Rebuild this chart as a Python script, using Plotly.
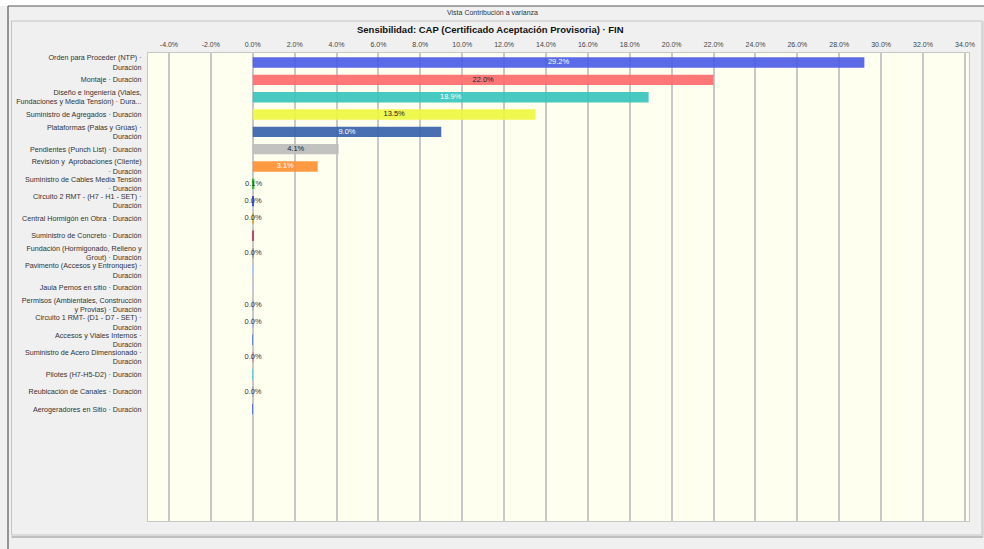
import plotly.graph_objects as go

# Sensitivity: contribution to variance of each activity duration
categories = [
    "Orden para Proceder (NTP) ·<br>Duración",
    "Montaje · Duración",
    "Diseño e Ingeniería (Viales,<br>Fundaciones y Media Tensión) · Dura...",
    "Suministro de Agregados · Duración",
    "Plataformas (Palas y Grúas) ·<br>Duración",
    "Pendientes (Punch List) · Duración",
    "Revisión y  Aprobaciones (Cliente)<br>· Duración",
    "Suministro de Cables Media Tensión<br>· Duración",
    "Circuito 2 RMT - (H7 - H1 - SET) ·<br>Duración",
    "Central Hormigón en Obra · Duración",
    "Suministro de Concreto · Duración",
    "Fundación (Hormigonado, Relleno y<br>Grout) · Duración",
    "Pavimento (Accesos y Entronques) ·<br>Duración",
    "Jaula Pernos en sitio · Duración",
    "Permisos (Ambientales, Construcción<br>y Provias) · Duración",
    "Circuito 1 RMT- (D1 - D7 - SET) ·<br>Duración",
    "Accesos y Viales Internos ·<br>Duración",
    "Suministro de Acero Dimensionado ·<br>Duración",
    "Pilotes (H7-H5-D2) · Duración",
    "Reubicación de Canales · Duración",
    "Aerogeradores en Sitio · Duración",
]
contribution_pct = [29.2, 22.0, 18.9, 13.5, 9.0, 4.1, 3.1, 0.08, 0.04, 0.04, 0.02,
                    0.03, 0.01, 0.01, 0.03, 0.03, 0.01, 0.03, 0.01, 0.02, 0.01]
show_label = [True, True, True, True, True, True, True, True, True, True, False,
              True, False, False, True, True, False, True, False, True, False]
bar_colors = ["#4a5ae6", "#ff6a6a", "#35c4bc", "#eef83e", "#3560aa", "#bcbcbc", "#ff9030",
              "#28b828", "#3848e0", "#e0a830", "#c03860", "#a0a0a0", "#a8c8f0", "#c8c8e0",
              "#b0b0d0", "#b0b8e0", "#6080e0", "#e090b0", "#60d0d0", "#b0b0c0", "#5070e0"]
label_colors = ["white", "#222", "white", "#222", "white", "#222", "white"] + ["#333"] * 14

tick_vals = list(range(-4, 35, 2))
tick_text = [f"{v:.1f}%" for v in tick_vals]

W, H = 984, 549
px_l, px_r, px_t, px_b = 148, 968.7, 53, 521

rows = list(range(len(categories)))

fig = go.Figure()
fig.add_trace(go.Bar(
    x=contribution_pct, y=rows, orientation="h", width=0.6,
    marker=dict(color=bar_colors, line=dict(width=0)), opacity=0.9,
    hoverinfo="skip",
))
fig.add_trace(go.Scatter(
    x=[v / 2 for v in contribution_pct], y=rows, mode="text",
    text=[f"{v:.1f}%" if s else "" for v, s in zip(contribution_pct, show_label)],
    textposition="middle center",
    textfont=dict(family="Liberation Sans, Arial", size=7.5, color=label_colors),
    hoverinfo="skip",
))


def fx(px):
    return px / W


def fy(py):
    return 1 - py / H


shapes = [
    # window strip and borders
    dict(type="rect", xref="paper", yref="paper", x0=0, x1=1, y0=fy(6), y1=1,
         fillcolor="white", line=dict(width=0), layer="below"),
    dict(type="line", xref="paper", yref="paper", x0=fx(8), x1=1, y0=fy(6), y1=fy(6),
         line=dict(color="#555", width=1.2)),
    dict(type="line", xref="paper", yref="paper", x0=fx(8), x1=fx(8), y0=0, y1=fy(6),
         line=dict(color="#555", width=1.2)),
    # inner panel outline
    dict(type="rect", xref="paper", yref="paper", x0=fx(11.5), x1=fx(982), y0=fy(535), y1=fy(21),
         fillcolor="rgba(0,0,0,0)", line=dict(color="#c4c4c4", width=1), layer="below"),
    dict(type="line", xref="paper", yref="paper", x0=fx(11.5), x1=fx(983), y0=fy(537), y1=fy(537),
         line=dict(color="#b0b0b0", width=1.5)),
    dict(type="line", xref="paper", yref="paper", x0=fx(983), x1=fx(983), y0=fy(537), y1=fy(21),
         line=dict(color="#c8c8c8", width=1)),
]

fig.update_layout(
    width=W, height=H,
    autosize=False,
    margin=dict(l=0, r=0, t=0, b=0, autoexpand=False),
    paper_bgcolor="#f0f0f0",
    plot_bgcolor="#fffff0",
    showlegend=False,
    bargap=0.4,
    font=dict(family="Liberation Sans, Arial", color="#333"),
    shapes=shapes,
    xaxis=dict(
        domain=[fx(px_l), fx(px_r)],
        range=[-5.0, 34.18], side="top",
        tickvals=tick_vals, ticktext=tick_text,
        tickfont=dict(size=7, color="#444"),
        showgrid=True, gridcolor="#c8c8c8", gridwidth=1.5,
        zeroline=False, showline=True, linecolor="#c8c8c8", mirror=True,
        ticks="", ticklabelstandoff=2, automargin=False,
    ),
    yaxis=dict(
        domain=[fy(px_b), fy(px_t)],
        range=[26.46, -0.55],
        tickvals=rows, ticktext=categories,
        tickfont=dict(size=7.2, color="#333"),
        showgrid=False, zeroline=False,
        showline=True, linecolor="#c8c8c8", mirror=True,
        ticks="", ticklabelstandoff=4, automargin=False,
    ),
    annotations=[
        dict(text="Vista Contribución a varianza", xref="paper", yref="paper",
             x=fx(493), y=fy(13), xanchor="center", yanchor="middle", showarrow=False,
             font=dict(size=7, color="#333")),
        dict(text="<b>Sensibilidad: CAP (Certificado Aceptación Provisoria) · FIN</b>",
             xref="paper", yref="paper", x=fx(490), y=fy(29), xanchor="center", yanchor="middle",
             showarrow=False, font=dict(size=9.5, color="#111")),
        dict(text="·", xref="paper", yref="paper", x=fx(21), y=fy(15), showarrow=False,
             font=dict(size=6, color="#aaa")),
        dict(text="·", xref="paper", yref="paper", x=fx(37), y=fy(15), showarrow=False,
             font=dict(size=6, color="#aaa")),
    ],
)

fig.write_html("out.html", config={"responsive": False})
